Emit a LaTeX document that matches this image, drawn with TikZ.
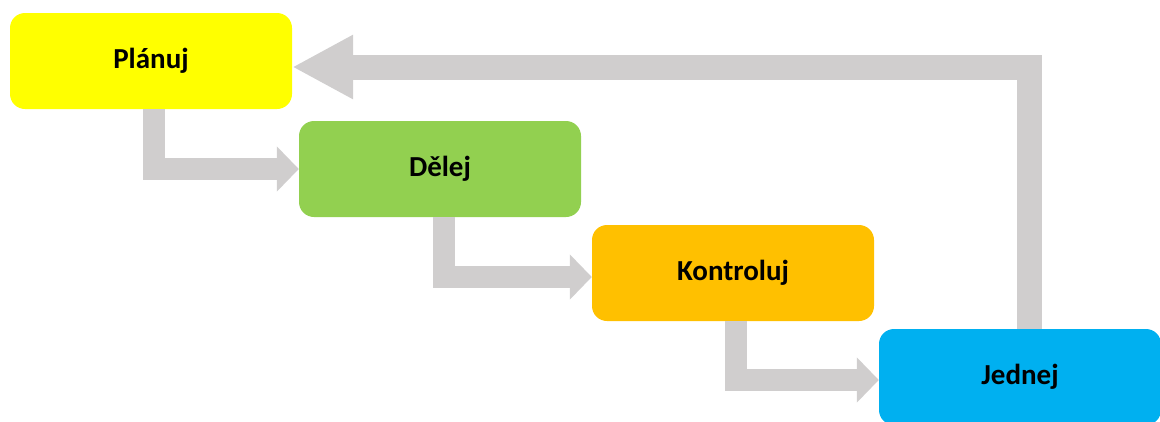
\documentclass[tikz,border=0pt]{standalone}
\usepackage{fontspec}
\setmainfont{Carlito}
\usetikzlibrary{arrows.meta}
\definecolor{cyclegray}{HTML}{D0CECE}
\definecolor{planyellow}{HTML}{FFFF00}
\definecolor{dogreen}{HTML}{92D050}
\definecolor{checkorange}{HTML}{FFC000}
\definecolor{actblue}{HTML}{00B0F0}
\begin{document}
\begin{tikzpicture}[x=1pt,y=-1pt,
  stage/.style={rounded corners=15pt,minimum width=282pt,minimum height=96pt,
    inner sep=0pt,font=\fontsize{29}{34}\selectfont\bfseries},
  flow/.style={draw=cyclegray,line width=22pt,line join=miter,
    -{Triangle[length=22pt,width=44pt]}},
  back/.style={draw=cyclegray,line width=25pt,line join=miter,
    -{Triangle[length=61pt,width=60pt]}}]
\useasboundingbox (0,0) rectangle (1160,421);
\node[stage,fill=planyellow] (plan) at (151,61) {Plánuj};
\node[stage,fill=dogreen] (do) at (440,169) {Dělej};
\node[stage,fill=checkorange] (check) at (733,273) {Kontroluj};
\node[stage,fill=actblue] (act) at (1020,377) {Jednej};
\draw[flow] ([xshift=3pt]plan.south) |- (do.west);
\draw[flow] ([xshift=4pt]do.south) |- ([yshift=-4pt]check.west);
\draw[flow] ([xshift=3pt]check.south) |- ([yshift=-3pt]act.west);
\draw[back] ([xshift=9pt]act.north) |- ([yshift=-6pt]plan.east);
\end{tikzpicture}
\end{document}
